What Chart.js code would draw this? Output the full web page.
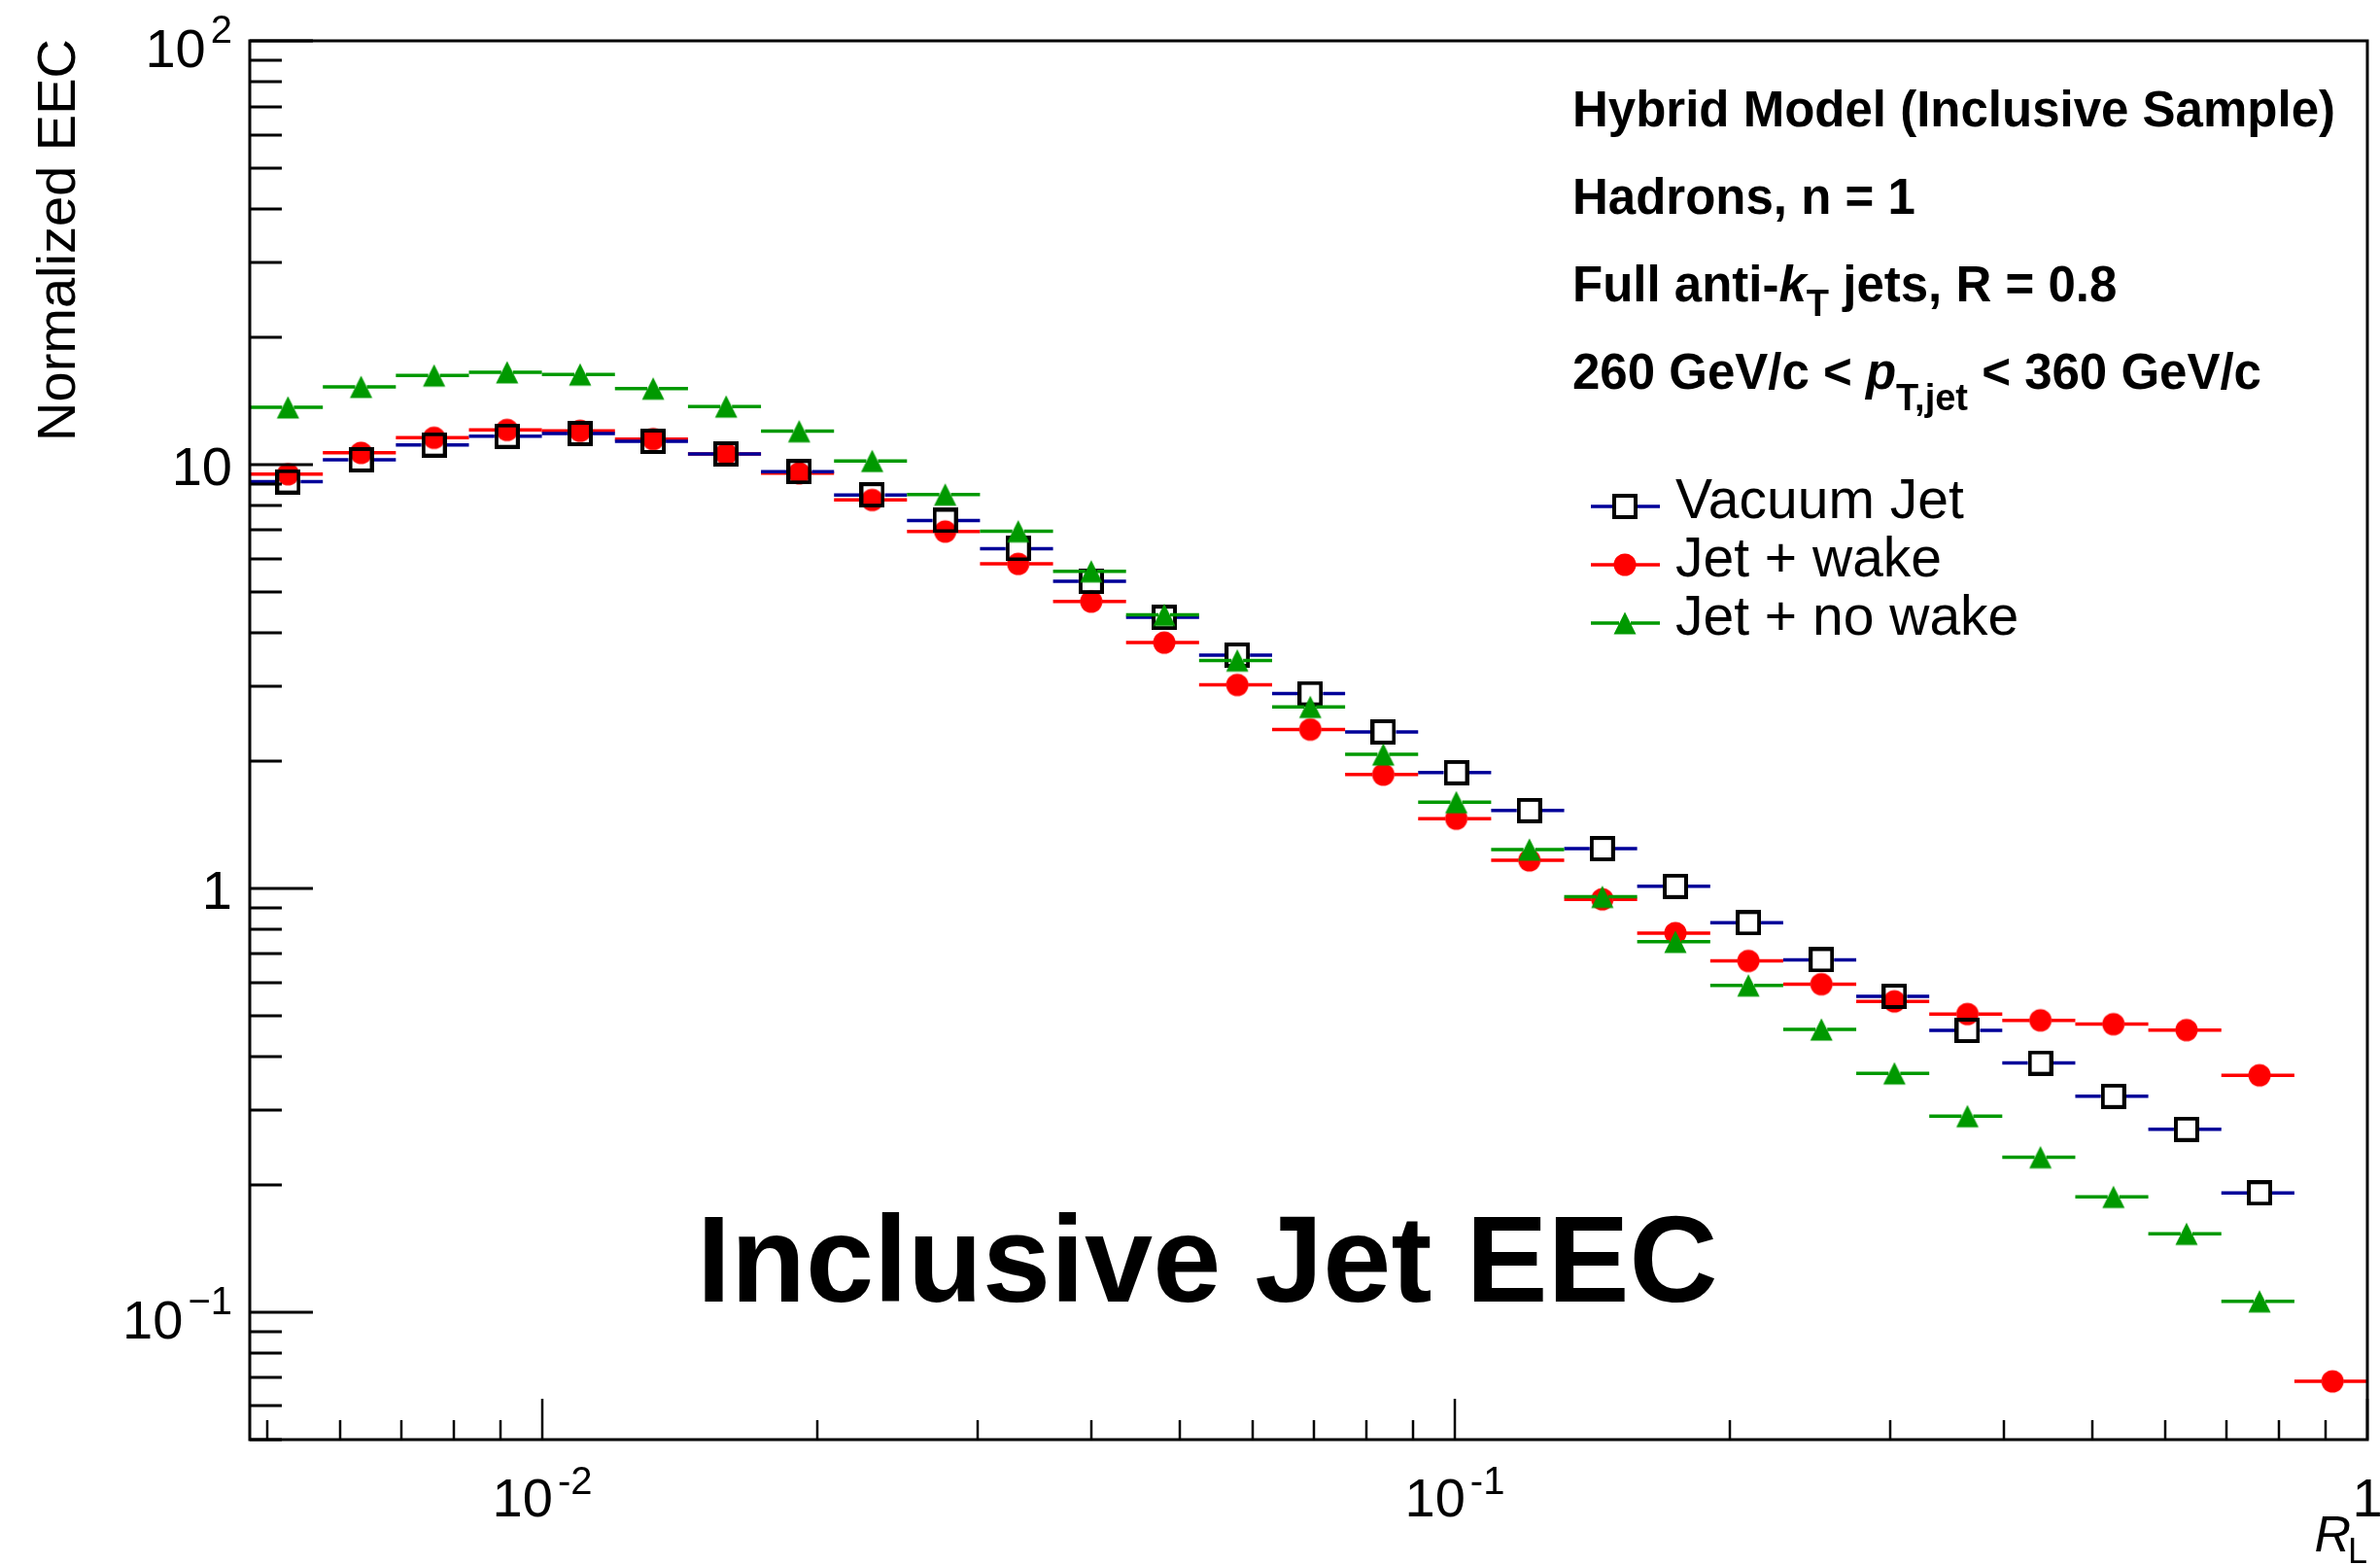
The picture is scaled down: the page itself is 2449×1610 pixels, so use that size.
<!DOCTYPE html>
<html>
<head>
<meta charset="utf-8">
<title>Inclusive Jet EEC</title>
<script src="https://cdn.jsdelivr.net/npm/chart.js@4.4.0/dist/chart.umd.min.js"></script>
<style>
  html, body { margin: 0; padding: 0; background: #fff; }
  canvas { display: block; }
</style>
</head>
<body>
<canvas id="eec" width="2449" height="1610"></canvas>
<script>
// R_L bin edges (equal width in log R_L)
const binEdges = [0.00478, 0.005748, 0.006911, 0.008310, 0.009990, 0.012012, 0.014443, 0.017365,
  0.020879, 0.025099, 0.030176, 0.036284, 0.043623, 0.052449, 0.063063, 0.075818, 0.091160,
  0.10960, 0.13178, 0.15842, 0.19050, 0.22900, 0.27535, 0.33105, 0.39803, 0.47855, 0.57535,
  0.69179, 0.83179, 1.0];

// normalized EEC per bin
const vacuumJet = [9.11, 10.27, 11.13, 11.67, 11.84, 11.35, 10.60, 9.62, 8.48, 7.38, 6.33, 5.30,
  4.36, 3.55, 2.88, 2.34, 1.875, 1.526, 1.240, 1.011, 0.829, 0.678, 0.556, 0.462, 0.387, 0.323,
  0.270, 0.191, null];
const jetWake = [9.49, 10.66, 11.57, 12.07, 12.01, 11.49, 10.60, 9.54, 8.25, 6.95, 5.83, 4.75,
  3.80, 3.02, 2.37, 1.855, 1.460, 1.164, 0.942, 0.784, 0.674, 0.594, 0.541, 0.505, 0.488, 0.478,
  0.463, 0.362, 0.0686];
const jetNoWake = [13.65, 15.26, 16.23, 16.52, 16.32, 15.12, 13.71, 11.99, 10.20, 8.50, 6.96, 5.60,
  4.42, 3.45, 2.68, 2.07, 1.597, 1.235, 0.955, 0.748, 0.590, 0.4645, 0.366, 0.290, 0.232, 0.187,
  0.153, 0.106, null];

const legendLabels = ['Vacuum Jet', 'Jet + wake', 'Jet + no wake'];

const xMajorTicks = [0.01, 0.1, 1];
const xTickLabels = [['10', '-2'], ['10', '-1'], ['1', '']];
const yMajorTicks = [0.1, 1, 10, 100];
const yTickLabels = [['10', '\u22121'], ['1', ''], ['10', ''], ['10', '2']];

const xTitle = ['R', 'L'];
const yTitle = 'Normalized EEC';
const bigLabel = 'Inclusive Jet EEC';
const infoLines = [
  [{ t: 'Hybrid Model (Inclusive Sample)' }],
  [{ t: 'Hadrons, n = 1' }],
  [{ t: 'Full anti-' }, { t: 'k', it: true }, { t: 'T', sub: true }, { t: ' jets, R = 0.8' }],
  [{ t: '260 GeV/c < ' }, { t: 'p', it: true }, { t: 'T,jet', sub: true }, { t: ' < 360 GeV/c' }],
];

const FONT = '"Liberation Sans", Arial, Helvetica, sans-serif';

function makeMarker(kind) {
  const c = document.createElement('canvas');
  c.width = 26; c.height = 26;
  const g = c.getContext('2d');
  if (kind === 'square') {
    g.strokeStyle = '#000'; g.lineWidth = 4;
    g.strokeRect(2, 2, 22, 22);
  } else if (kind === 'circle') {
    g.fillStyle = '#ff0000';
    g.beginPath(); g.arc(13, 13, 11.5, 0, Math.PI * 2); g.fill();
  } else {
    g.fillStyle = '#009900';
    g.beginPath(); g.moveTo(13, 1.5); g.lineTo(24.5, 24.5); g.lineTo(1.5, 24.5); g.closePath(); g.fill();
  }
  return c;
}

const series = [
  { label: legendLabels[0], values: vacuumJet, bar: '#000099', marker: makeMarker('square'), gap: 13, order: 1 },
  { label: legendLabels[1], values: jetWake, bar: '#ff0000', marker: makeMarker('circle'), gap: 11, order: 2 },
  { label: legendLabels[2], values: jetNoWake, bar: '#009900', marker: makeMarker('triangle'), gap: 6, order: 0 },
];

const binCenter = i => (binEdges[i] + binEdges[i + 1]) / 2;

// horizontal bin-width bars, ROOT style (gap around the marker)
const errorBars = {
  id: 'errorBars',
  beforeDatasetDraw(chart, args) {
    const ds = chart.data.datasets[args.index];
    const { ctx, scales: { x, y } } = chart;
    ctx.save();
    ctx.strokeStyle = ds.barColor;
    ctx.lineWidth = 3.5;
    ds.data.forEach(p => {
      const px = x.getPixelForValue(p.x);
      const py = y.getPixelForValue(p.y);
      const x0 = x.getPixelForValue(p.lo);
      const x1 = x.getPixelForValue(p.hi);
      ctx.beginPath();
      ctx.moveTo(x0, py); ctx.lineTo(px - ds.gap, py);
      ctx.moveTo(px + ds.gap, py); ctx.lineTo(x1, py);
      ctx.stroke();
    });
    ctx.restore();
  }
};

function drawPower(ctx, base, exp, x, baseline, align, supRaise) {
  ctx.font = `56px ${FONT}`;
  const wb = ctx.measureText(base).width;
  ctx.font = `40px ${FONT}`;
  const we = exp ? ctx.measureText(exp).width + 5 : 0;
  const total = wb + we;
  const x0 = align === 'right' ? x - total : x - total / 2;
  ctx.textAlign = 'left';
  ctx.font = `56px ${FONT}`;
  ctx.fillText(base, x0, baseline);
  if (exp) {
    ctx.font = `40px ${FONT}`;
    ctx.fillText(exp, x0 + wb + 5, baseline - supRaise);
  }
}

// frame, inward ticks, labels and all the text of the ROOT canvas
const rootFrame = {
  id: 'rootFrame',
  afterDraw(chart) {
    const { ctx, chartArea: a, scales: { x, y } } = chart;
    ctx.save();
    ctx.fillStyle = '#000';
    ctx.strokeStyle = '#000';
    ctx.textBaseline = 'alphabetic';

    // y ticks
    ctx.lineWidth = 3;
    for (let d = 0.01; d < 200; d *= 10) {
      for (let k = 1; k <= 9; k++) {
        const v = d * k;
        if (v < 0.05 * 0.999 || v > 100 * 1.001) continue;
        const py = Math.round(y.getPixelForValue(v));
        const len = k === 1 ? 65 : 33;
        ctx.beginPath(); ctx.moveTo(a.left, py); ctx.lineTo(a.left + len, py); ctx.stroke();
      }
    }
    // x ticks
    ctx.lineWidth = 2.5;
    for (let d = 0.001; d < 2; d *= 10) {
      for (let k = 1; k <= 9; k++) {
        const v = d * k;
        if (v < 0.00478 || v > 1.0001) continue;
        const px = Math.round(x.getPixelForValue(v));
        const len = k === 1 ? 42 : 20;
        ctx.beginPath(); ctx.moveTo(px, a.bottom); ctx.lineTo(px, a.bottom - len); ctx.stroke();
      }
    }

    // frame
    ctx.lineWidth = 3;
    ctx.strokeRect(a.left, a.top, a.right - a.left, a.bottom - a.top);

    // tick labels
    yMajorTicks.forEach((v, i) => {
      const py = y.getPixelForValue(v);
      const [b, e] = yTickLabels[i];
      if (e) drawPower(ctx, b, e, 239, py + 27, 'right', 25);
      else drawPower(ctx, b, e, 239, py + 21, 'right', 0);
    });
    xMajorTicks.forEach((v, i) => {
      const px = x.getPixelForValue(v);
      const [b, e] = xTickLabels[i];
      drawPower(ctx, b, e, px, 1560, 'center', 23);
    });

    // axis titles
    ctx.font = `italic 52px ${FONT}`;
    const wR = ctx.measureText(xTitle[0]).width;
    ctx.font = `36px ${FONT}`;
    const wL = ctx.measureText(xTitle[1]).width;
    ctx.font = `italic 52px ${FONT}`;
    ctx.fillText(xTitle[0], a.right - wL - wR + 3, 1596);
    ctx.font = `36px ${FONT}`;
    ctx.fillText(xTitle[1], a.right - wL, 1608);

    ctx.save();
    ctx.translate(77, 40);
    ctx.rotate(-Math.PI / 2);
    ctx.textAlign = 'right';
    ctx.font = `56px ${FONT}`;
    ctx.fillText(yTitle, 0, 0);
    ctx.restore();

    // info block
    const infoBase = [130, 220, 310, 400];
    const subDrop = [0, 0, 15, 22];
    infoLines.forEach((parts, li) => {
      let cx = 1618;
      parts.forEach(p => {
        const fs = p.sub ? 38 : 51;
        ctx.font = `${p.it ? 'italic ' : ''}bold ${fs}px ${FONT}`;
        ctx.fillText(p.t, cx, infoBase[li] + (p.sub ? subDrop[li] : 0));
        cx += ctx.measureText(p.t).width;
      });
    });

    // legend
    const legY = [521, 581, 641];
    series.forEach((s, i) => {
      const ly = legY[i];
      ctx.strokeStyle = s.bar;
      ctx.lineWidth = 3.5;
      ctx.beginPath();
      ctx.moveTo(1637, ly); ctx.lineTo(1672 - s.gap, ly);
      ctx.moveTo(1672 + s.gap, ly); ctx.lineTo(1708, ly);
      ctx.stroke();
      ctx.drawImage(s.marker, 1672 - 13, ly - 13);
      ctx.font = `57px ${FONT}`;
      ctx.fillStyle = '#000';
      ctx.fillText(s.label, 1724, ly + 12);
    });

    // big label
    ctx.font = `bold 126px ${FONT}`;
    ctx.fillText(bigLabel, 717, 1339);

    ctx.restore();
  }
};

new Chart(document.getElementById('eec'), {
  type: 'scatter',
  data: {
    datasets: series.map(s => ({
      label: s.label,
      data: s.values
        .map((v, i) => v === null ? null : { x: binCenter(i), y: v, lo: binEdges[i], hi: binEdges[i + 1] })
        .filter(p => p !== null),
      pointStyle: s.marker,
      pointRadius: 12,
      pointHoverRadius: 12,
      showLine: false,
      order: s.order,
      barColor: s.bar,
      gap: s.gap,
    })),
  },
  options: {
    responsive: false,
    animation: false,
    devicePixelRatio: 1,
    events: [],
    layout: { padding: { left: 257, right: 9, top: 42, bottom: 129 } },
    scales: {
      x: { type: 'logarithmic', min: 0.00478, max: 1, display: false },
      y: { type: 'logarithmic', min: 0.05, max: 100, display: false },
    },
    plugins: { legend: { display: false }, tooltip: { enabled: false } },
  },
  plugins: [errorBars, rootFrame],
});
</script>
</body>
</html>
